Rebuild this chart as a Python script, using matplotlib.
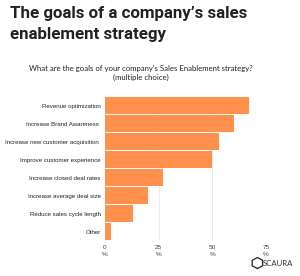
import matplotlib
matplotlib.use("Agg")
import matplotlib.pyplot as plt
from matplotlib.patches import RegularPolygon

# survey answers, top to bottom
goals = ["Revenue optimization", "Increase Brand Awareness ",
         "Increase new customer acquisition ", "Improve customer experience",
         "Increase closed deal rates", "Increase average deal size",
         "Reduce sales cycle length", "Other"]
share = [67, 60, 53, 50, 27, 20, 13, 3]
ticks = [0, 25, 50, 75]
tick_labels = ["0\n%", "25\n%", "50\n%", "75\n%"]

orange = "#FF914D"

fig = plt.figure(figsize=(3.0, 2.76), dpi=100)
ax = fig.add_axes([0.349, 0.128, 0.538, 0.522])

y = list(range(len(goals)))
ax.barh(y, share, height=0.94, color=orange, zorder=2)
ax.set_ylim(len(goals) - 0.5, -0.5)
ax.set_xlim(0, 75)

ax.set_yticks(y)
ax.set_yticklabels(goals, fontsize=4.4, family="Liberation Sans", color="#222222")
ax.set_xticks(ticks)
ax.set_xticklabels(tick_labels, fontsize=4.6, family="Liberation Sans",
                   color="#444444", linespacing=1.5)
ax.tick_params(length=0, pad=3)
ax.grid(axis="x", color="#e6e6e6", linewidth=0.6, zorder=0)
for s in ax.spines.values():
    s.set_visible(False)

fig.text(0.033, 0.98, "The goals of a company’s sales\nenablement strategy",
         fontsize=12.2, fontweight="bold", family="Roboto", color="#222222",
         va="top", ha="left", linespacing=1.5)
fig.text(0.47, 0.735, "What are the goals of your company's Sales Enablement strategy?\n(multiple choice)",
         fontsize=5.6, family="Lato", color="#222222", ha="center", va="center",
         linespacing=1.4)

# logo
fig.add_artist(RegularPolygon((0.858, 0.047), 6, radius=0.02, transform=fig.transFigure,
                              facecolor="none", edgecolor="#333333", linewidth=1.0))
fig.text(0.876, 0.047, "SCAURA", fontsize=5.6, family="Lato", color="#333333",
         va="center", ha="left")

fig.savefig("out.png", dpi=100)
